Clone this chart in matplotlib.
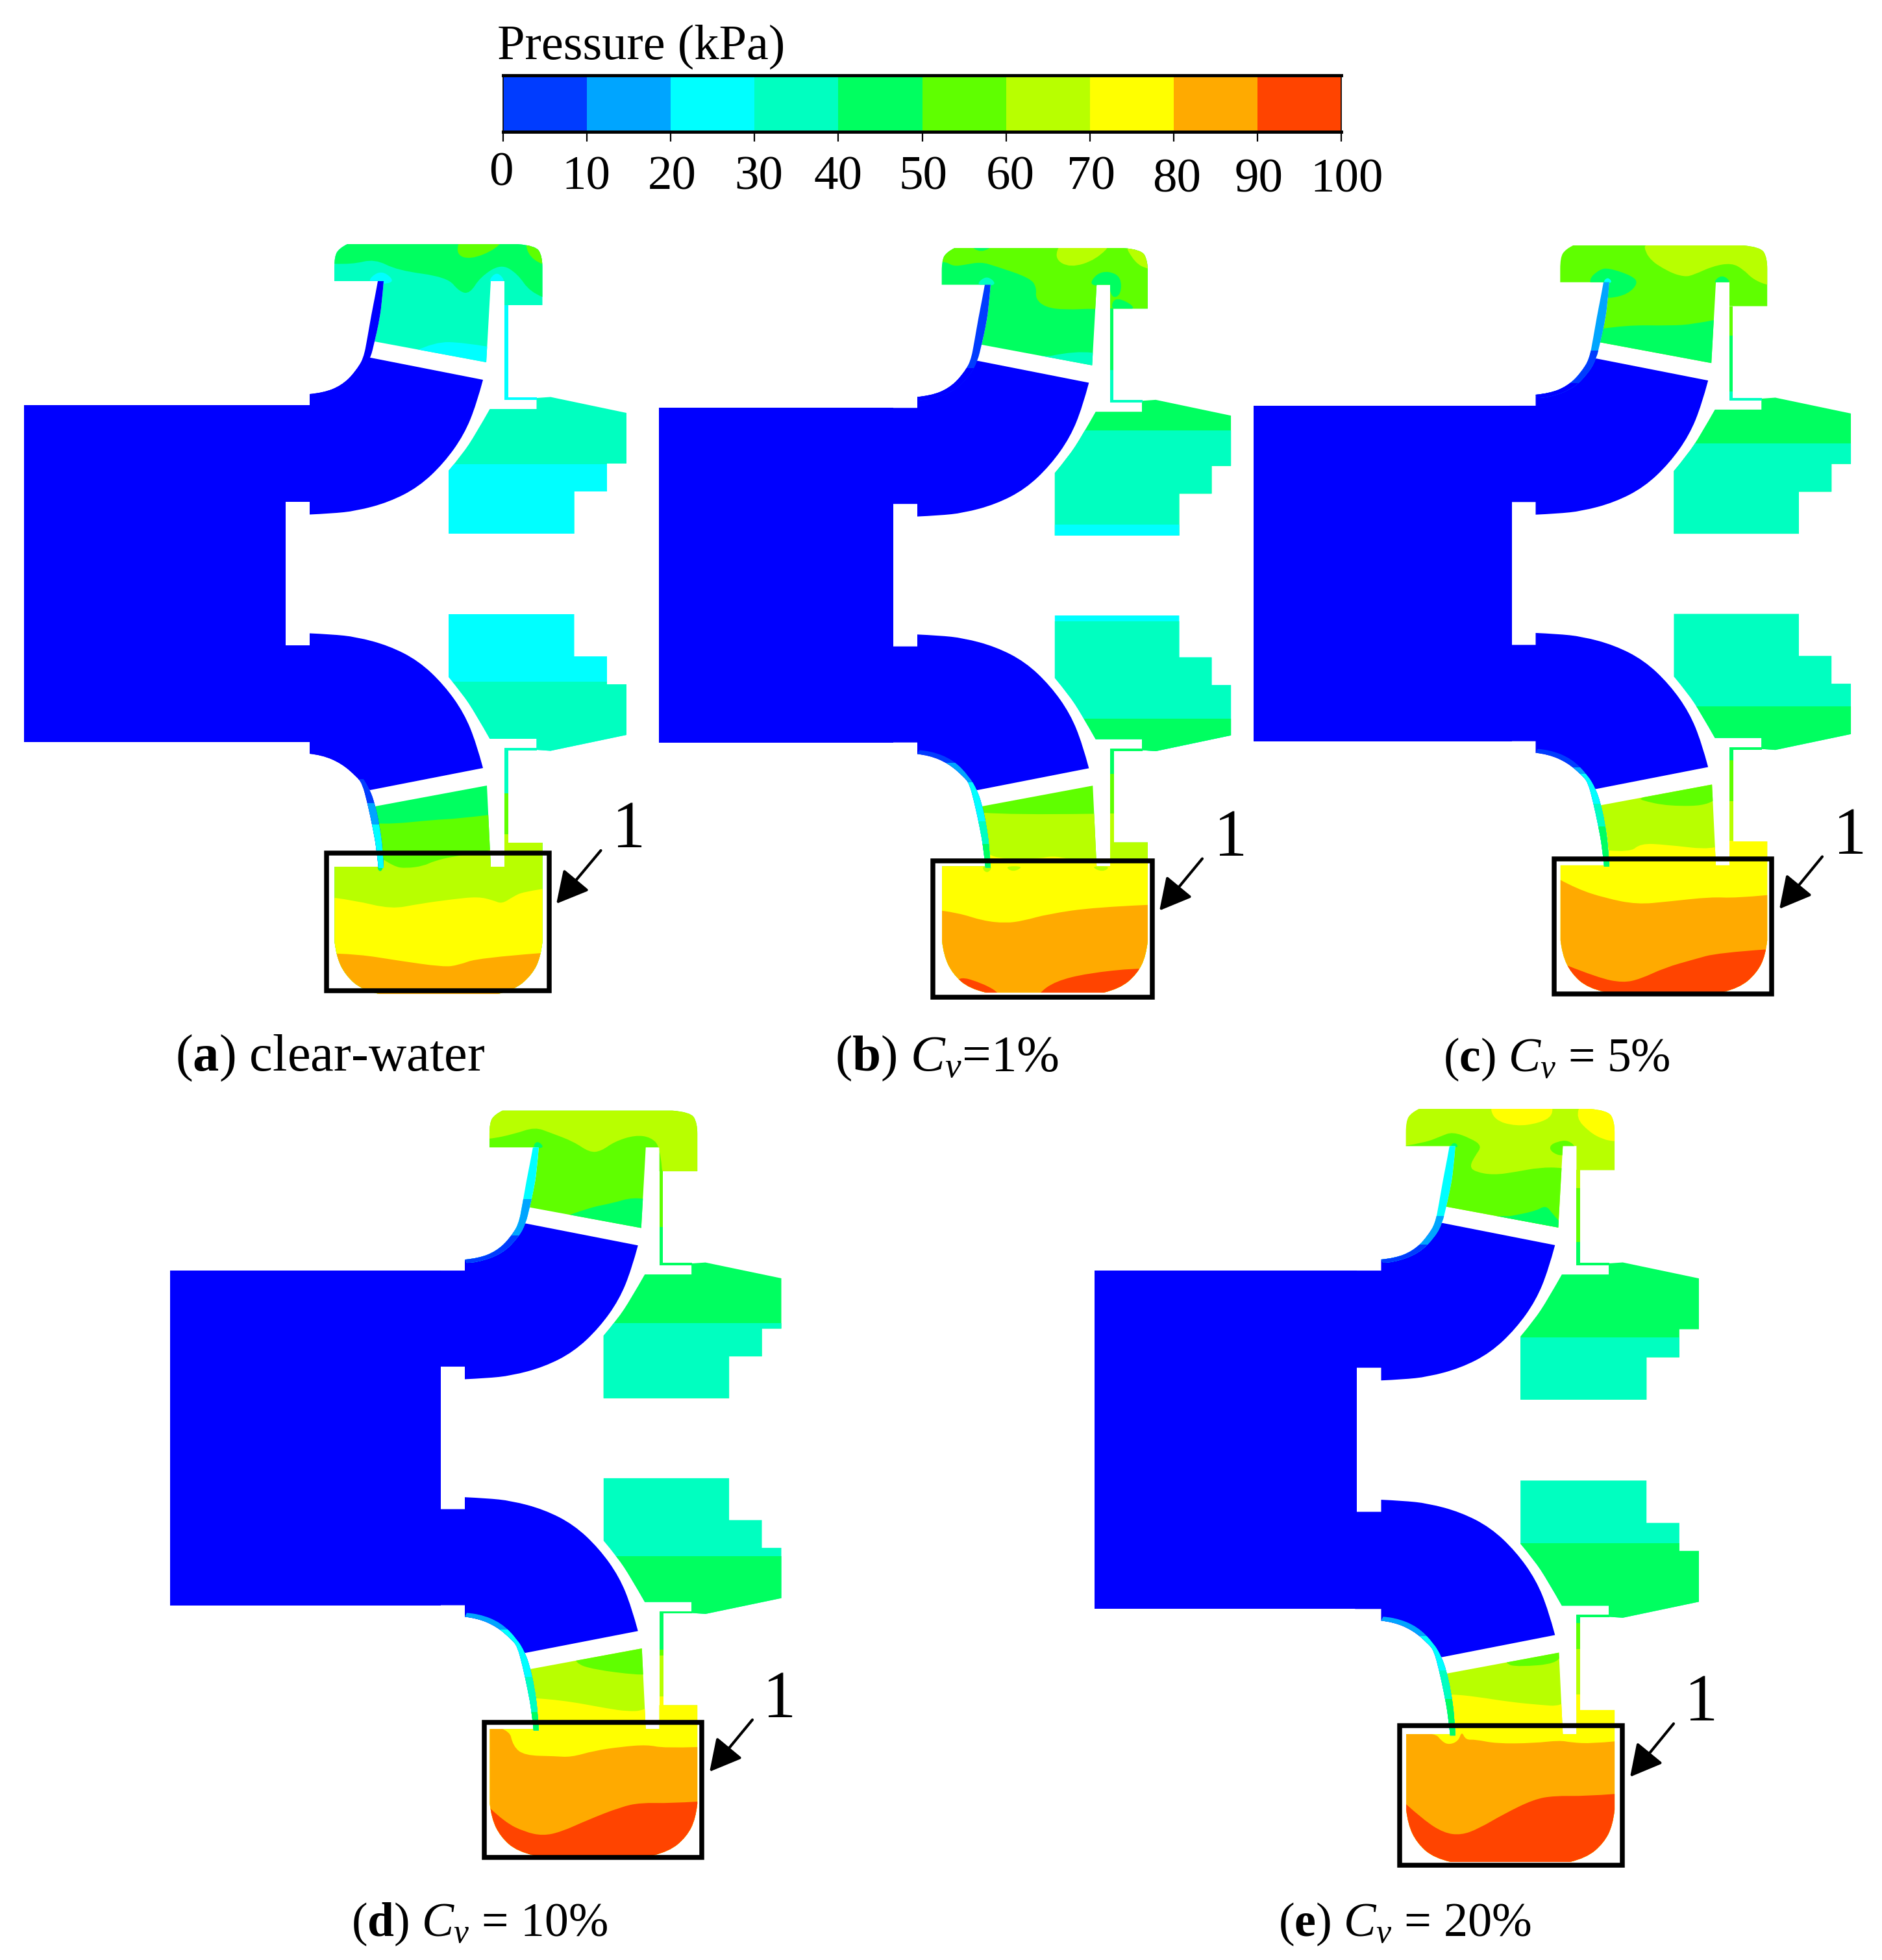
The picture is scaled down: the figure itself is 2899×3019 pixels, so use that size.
"""Pressure contours in the pump meridional section for five solid concentrations."""

import matplotlib

matplotlib.use("Agg")
import matplotlib.pyplot as plt
from matplotlib.patches import FancyArrowPatch, PathPatch, Rectangle
from matplotlib.path import Path

plt.rcParams["font.family"] = ["Liberation Serif", "DejaVu Serif"]
plt.rcParams["mathtext.fontset"] = "custom"
plt.rcParams["mathtext.rm"] = "Liberation Serif"
plt.rcParams["mathtext.it"] = "Liberation Serif:italic"
plt.rcParams["mathtext.bf"] = "Liberation Serif:bold"

WIDTH, HEIGHT = 2899, 3019

# colour bar
PRESSURE_LEVELS = [0, 10, 20, 30, 40, 50, 60, 70, 80, 90, 100]
BAND_COLORS = ["#003cff", "#00a5ff", "#00ffff", "#00ffc0", "#00ff60", "#5fff00",
               "#b8ff00", "#ffff00", "#ffaa00", "#ff4400", "#0000ff"]  # last: inlet blue
DEEP = 10
TICK_LABEL_X = [772, 903, 1035, 1169, 1291, 1422, 1556, 1681, 1813, 1939, 2075]
TICK_LABEL_BASE = [285, 292, 292, 292, 292, 292, 292, 292, 295, 295, 295]

# pump geometry, in its image pixels
ARC_UP = [(744, 585), (734, 622.4), (715, 669.4), (684, 713), (645, 750), (599, 773.5), (549, 787), (510, 791),
          (477, 792.5)]
ARC_LOW = [(477, 975.5), (510, 977), (549, 981), (599, 994.5), (645, 1018), (684, 1055), (715, 1098.6),
           (734, 1145.6), (744, 1183)]
SHROUD_UP = [(477, 607), (498, 605), (525.5, 594), (546.7, 574), (560, 552)]
SHROUD_LOW = [(570, 1217), (558, 1207), (549, 1196), (526, 1176), (496, 1163), (477, 1161)]

CAP_OUTLINE = [[(515, 433), (515, 412)], [(515, 412), (515, 395), (523, 382), (535, 376)],
               [(797, 376), (825, 378), (835.5, 395), (835.5, 412)],
               [(835.5, 470), (777, 470), (777, 433), (756, 433), (749, 558), (577, 526)],
               [(577, 526), (583, 500), (588, 470), (591, 433)]]
LOWER_OUTLINE = [[(578, 1242), (750, 1210), (756, 1335), (777, 1335), (777, 1298),
                  (835.5, 1298), (835.5, 1451)],
                 [(835.5, 1451), (833, 1474), (819, 1502), (792, 1525), (767, 1531)],
                 [(584, 1531), (558, 1525), (532, 1502), (518, 1473), (515.5, 1451)],
                 [(515.5, 1335), (586, 1335), (591, 1335)],
                 [(591, 1335), (590, 1307), (584, 1268), (578, 1242)]]
CHAMBER_UP = [[(754.5, 630), (826.5, 630), (826.5, 613), (848, 611.5), (965, 636), (965, 714),
               (935, 714), (935, 757), (884.5, 757), (884.5, 822), (691, 822), (691, 725)],
              [(691, 725), (712, 700), (733, 668), (754.5, 630)]]
CHAMBER_LOW = [[(754.5, 1138), (826.5, 1138), (826.5, 1155), (848, 1156.5), (965, 1132), (965, 1054),
                (935, 1054), (935, 1011), (884.5, 1011), (884.5, 946), (691, 946), (691, 1043)],
               [(691, 1043), (712, 1068), (733, 1100), (754.5, 1138)]]
STRIP_UP = [[(777, 470), (782.5, 470), (782.5, 612), (827, 612), (827, 616), (777, 616)]]
STRIP_LOW = [[(777, 1152), (827, 1152), (827, 1156), (783, 1156), (783, 1298), (777, 1298)]]
HUB = [[(437, 624), (477, 624), (477, 607)], SHROUD_UP, [(560, 552), (571, 551), (744, 585)], ARC_UP,
       [(477, 773), (437, 773), (437, 994), (477, 994), (477, 975.5)], ARC_LOW, [(744, 1183), (570, 1217)],
       SHROUD_LOW, [(477, 1143), (437, 1143)]]
BLADE_UP = [[(591, 433), (588, 470), (583, 500), (577, 526), (571, 551), (560, 572), (535, 598),
             (495, 612), (480, 612)],
            [(477, 607), (498, 605), (525.5, 594), (546.7, 574), (560, 552), (566, 520), (572, 485),
             (578, 455), (582, 433)]]
BLADE_LOW = [[(591, 1337), (589.5, 1307), (584, 1268), (577, 1237), (570, 1217), (558, 1196), (533, 1170),
              (498, 1156), (480, 1155)],
             [(477, 1161), (496, 1163), (526, 1176), (549, 1196), (558, 1207), (566, 1237), (574, 1274),
              (580, 1307), (583, 1337)]]
INLET_TOP, INLET_BOTTOM, INLET_RIGHT = 624, 1143, 440

# panel placement: hub step x, cap top y, x scale, y scale, inlet left edge
OFFSET_X = [477, 1413, 2365.5, 716, 2127.5]
OFFSET_Y = [376, 382, 378, 1710.7, 1708]
SCALE_X = [1.0, 0.99, 0.995, 0.999, 1.003]
SCALE_Y = [1.0, 0.993, 0.9957, 0.9933, 1.0043]
INLET_LEFT = [37, 1015, 1931, 262, 1686]

# crops the contour lines were read in: x0, y0, x scale, y scale
CROP_A_UP = (0, 340, 1.568, 1.96)
CROP_A_LOW = (400, 1100, 2.613, 2.703)
CROP_B_UP = (1350, 340, 2.613, 3)
CROP_B_LOW = (1350, 1150, 2.613, 2.85)
CROP_C_UP = (2300, 360, 2.75, 3)
CROP_C_LOW = (2050, 1150, 1.845, 2.85)
CROP_D_UP = (680, 1690, 2.85, 3)
CROP_D_LOW = (650, 2550, 1.96, 3)
CROP_E_UP = (2090, 1690, 2.85, 3)
CROP_E_LOW = (2050, 2550, 2.24, 3)

A_UP = [("above", 4, [(808, 130), (850, 132), (905, 115), (960, 150), (1080, 170), (1110, 215), (1135, 220),
                      (1160, 170), (1210, 130), (1250, 160), (1280, 215), (1310, 230)]),
        ("blob", 5, [(1115, 40), (1100, 100), (1135, 118), (1200, 85), (1225, 40)]),
        ("blob", 5, [(1270, 40), (1272, 100), (1310, 135), (1350, 135), (1350, 40)]),
        ("below", 2, [(1000, 395), (1050, 365), (1120, 368), (1178, 380)]),
        ("blob", 2, [(880, 190), (920, 145), (960, 190)]),
        ("blob", 2, [(1175, 190), (1200, 150), (1225, 190)])]
A_LOW = [("below", 5, [(478, 455), (530, 458), (700, 440), (800, 435), (920, 420)]),
         ("below", 6, [(490, 600), (540, 635), (590, 642), (660, 632), (700, 612), (780, 592), (900, 575),
                       (930, 565), (985, 520), (1140, 520)]),
         ("below", 7, [(302, 765), (380, 775), (530, 812), (640, 790), (780, 770), (880, 760), (940, 775),
                       (975, 790), (1020, 760), (1060, 740), (1138, 728)]),
         ("below", 8, [(310, 997), (400, 1000), (550, 1025), (740, 1053), (800, 1045), (880, 1015), (1130, 995)]),
         ("blob", 4, [(470, 635), (485, 660), (500, 635)])]
B_UP = [("blob", 5, [(280, 190), (310, 210), (350, 205), (420, 190), (480, 210), (620, 265), (645, 310),
                     (640, 360), (680, 400), (760, 412), (880, 405), (1000, 415), (1200, 415), (1200, 60),
                     (240, 60), (240, 190)]),
        ("blob", 4, [(855, 300), (885, 245), (935, 232), (985, 260), (985, 340), (950, 360), (935, 300)]),
        ("blob", 4, [(960, 345), (1060, 410), (940, 420)]),
        ("blob", 4, [(370, 110), (420, 150), (480, 110)]),
        ("blob", 3, [(395, 300), (445, 250), (490, 300)]),
        ("blob", 6, [(745, 90), (715, 175), (780, 218), (885, 180), (960, 90)]),
        ("blob", 6, [(990, 90), (1040, 195), (1095, 225), (1150, 225), (1150, 90)]),
        ("below", 3, [(700, 625), (800, 600), (870, 610)])]
B_LOW = [("below", 6, [(425, 290), (540, 300), (870, 295)]),
         ("below", 7, [(460, 475), (480, 492), (650, 492), (710, 480), (770, 492), (885, 510), (945, 505),
                       (1095, 500)]),
         ("blob", 6, [(420, 525), (445, 560), (470, 525)]),
         ("blob", 6, [(515, 525), (550, 552), (595, 525)]),
         ("blob", 6, [(860, 525), (910, 552), (945, 525)]),
         ("below", 8, [(262, 720), (330, 730), (430, 765), (520, 775), (590, 765), (690, 735), (880, 705), (1090, 695)]),
         ("blob", 9, [(325, 1005), (430, 1040), (500, 1085), (505, 1140), (400, 1140), (320, 1080)]),
         ("blob", 9, [(650, 1085), (720, 1030), (850, 995), (1050, 972), (1130, 980), (1130, 1140), (640, 1140)])]
C_UP = [("blob", 6, [(635, 20), (650, 110), (740, 175), (810, 200), (850, 190), (930, 150), (1010, 135),
                     (1060, 165), (1100, 210), (1165, 240), (1250, 250), (1250, 20)]),
        ("blob", 4, [(400, 215), (450, 165), (490, 158), (590, 195), (615, 228), (570, 280), (490, 300), (440, 290)]),
        ("blob", 4, [(925, 232), (970, 185), (1015, 232)]),
        ("below", 4, [(455, 440), (560, 422), (750, 425), (850, 418), (940, 398)]),
        ("blob", 2, [(462, 228), (485, 198), (508, 228)])]
C_LOW = [("blob", 5, [(880, 235), (960, 262), (1085, 258), (1120, 170), (1000, 150), (880, 225)]),
         ("below", 7, [(785, 455), (850, 465), (880, 425), (950, 430), (1090, 455), (1140, 400), (1260, 400)]),
         ("below", 8, [(652, 585), (700, 625), (780, 665), (870, 693), (960, 680), (1080, 660), (1150, 665), (1240, 652)]),
         ("below", 9, [(670, 960), (760, 1015), (830, 1037), (880, 1020), (950, 970), (1030, 935), (1100, 905), (1240, 890)])]
D_UP = [("blob", 6, [(100, 195), (208, 195), (320, 170), (410, 138), (480, 165), (580, 205), (650, 255), (700, 250),
                     (760, 205), (850, 175), (920, 185), (960, 230), (975, 420), (1250, 420), (1250, 0), (100, 0)]),
        ("blob", 4, [(398, 235), (420, 198), (455, 235)]),
        ("below", 4, [(560, 545), (650, 510), (750, 490), (840, 462), (890, 470)])]
D_LOW = [("blob", 5, [(460, 35), (520, 65), (650, 90), (690, 85), (690, -120), (460, -40)]),
         ("below", 7, [(345, 198), (420, 205), (560, 245), (620, 258), (670, 255), (720, 200), (840, 200)]),
         ("below", 8, [(150, 300), (262, 330), (275, 420), (310, 462), (400, 465), (450, 470), (520, 440), (600, 422),
                       (680, 412), (730, 428), (832, 423)]),
         ("below", 9, [(205, 705), (250, 770), (310, 815), (365, 833), (420, 815), (500, 760), (600, 700), (660, 680),
                       (750, 683), (832, 675)])]
E_UP = [("below", 5, [(210, 225), (300, 210), (370, 180), (420, 160), (500, 190), (550, 225), (520, 270), (495, 320),
                      (520, 345), (600, 360), (700, 345), (800, 325), (905, 325), (965, 350), (1300, 350)]),
        ("blob", 5, [(905, 275), (855, 255), (845, 225), (880, 205), (930, 198), (968, 238)]),
        ("blob", 7, [(582, 20), (600, 105), (700, 135), (800, 120), (862, 85), (855, 20)]),
        ("blob", 7, [(985, 20), (962, 95), (1020, 160), (1080, 195), (1135, 205), (1200, 205), (1200, 20)]),
        ("below", 4, [(670, 550), (780, 530), (830, 498), (860, 540), (890, 575)]),
        ("blob", 4, [(405, 232), (428, 205), (450, 232)])]
E_LOW = [("blob", 5, [(600, 40), (650, 52), (780, 38), (800, -20), (780, -120), (600, -40)]),
         ("below", 7, [(300, 178), (415, 178), (500, 190), (620, 215), (720, 228), (795, 235), (850, 175), (980, 175)]),
         ("below", 8, [(150, 340), (355, 350), (385, 400), (410, 412), (440, 395), (452, 350), (465, 390), (500, 388),
                       (570, 407), (700, 405), (790, 392), (830, 402), (900, 407), (978, 397)]),
         ("below", 9, [(258, 685), (320, 760), (390, 820), (450, 830), (510, 800), (600, 730), (700, 665), (770, 648),
                       (880, 650), (978, 640)])]

# (image y where the level starts, colour index); first entry is the base colour
UP_BASE = [3, 4, 5, 5, 6]
LOW_BASE = [4, 5, 6, 6, 6]
CHAMBER_UP_LEVELS = [[(0, 3), (715, 2)], [(0, 4), (663, 3), (808, 2)], [(0, 4), (683, 3)],
                     [(0, 4), (2038, 3)], [(0, 4), (2060, 3)]]
CHAMBER_LOW_LEVELS = [[(0, 2), (1050, 3)], [(0, 2), (957, 3), (1107, 4)], [(0, 3), (1088, 4)],
                      [(0, 3), (2397, 4)], [(0, 3), (2377, 4)]]
STRIP_UP_LEVELS = [[(0, 2)], [(0, 4), (570, 3)], [(0, 5), (517, 4), (603, 3)],
                   [(0, 5), (1890, 4)], [(0, 6), (1830, 5), (1913, 4)]]
STRIP_LOW_LEVELS = [[(0, 3), (1222, 5), (1285, 6)], [(0, 4), (1192, 5), (1253, 6)],
                    [(0, 4), (1171, 5), (1234, 6), (1295, 7)],
                    [(0, 4), (2541, 5), (2550, 6), (2613, 7)], [(0, 4), (2500, 5), (2540, 6), (2610, 7)]]
BLADE_UP_LEVELS = [[(0, DEEP)], [(0, 0), (567, DEEP)], [(0, 1), (540, 0), (590, DEEP)],
                   [(0, 2), (1847, 1), (1903, 0), (1950, DEEP)], [(0, 2), (1873, 1), (1917, 0)]]
BLADE_LOW_LEVELS = [[(0, DEEP), (1200, 0), (1237, 1), (1270, 2)],
                    [(0, 0), (1175, 1), (1205, 2), (1265, 3), (1300, 4)],
                    [(0, 0), (1182, 1), (1192, 2), (1238, 3), (1273, 4)],
                    [(0, 0), (2475, 1), (2510, 2), (2583, 3), (2637, 4)],
                    [(0, 0), (2480, 1), (2520, 2), (2573, 3), (2617, 4)]]

# annotations
BOX_X0 = [499.5, 1433, 2390, 742, 2152]
BOX_X1 = [850, 1779, 2733, 1085, 2503]
BOX_Y0 = [1310, 1322.6, 1319.5, 2649, 2654]
BOX_Y1 = [1530, 1540, 1535, 2865, 2877]
ARROW_TAIL = [(925.5, 1310), (1852, 1322.6), (2807, 1319.5), (1159, 2649), (2578, 2655)]
ARROW_TIP = [(857, 1392), (1786, 1402.6), (2741, 1400), (1093, 2729), (2511, 2737)]
ONE_X = [969, 1896, 2849.5, 1201, 2621]
ONE_BASE = [1305, 1318, 1315, 2645, 2650]
CAPTIONS = [r"($\mathbf{a}$) clear-water", r"($\mathbf{b}$) $C_v$=1%", r"($\mathbf{c}$) $C_v$ = 5%",
            r"($\mathbf{d}$) $C_v$ = 10%", r"($\mathbf{e}$) $C_v$ = 20%"]
CAPTION_X = [270, 1286, 2223, 541, 1969]
CAPTION_BASE = [1649, 1649, 1650, 2982, 2982]
CAPTION_SIZE = [58, 57, 53, 53, 53.5]

# sections that are runs of straight edges, not curves
CORNER_RUNS = [CAP_OUTLINE[0], CAP_OUTLINE[3], LOWER_OUTLINE[0], LOWER_OUTLINE[3], CHAMBER_UP[0], CHAMBER_LOW[0],
               STRIP_UP[0], STRIP_LOW[0], HUB[0], HUB[2], HUB[4], HUB[8]]


def smooth(verts, codes, pts):
    """Append an open quadratic spline through the control points."""
    for i in range(1, len(pts) - 1):
        next_pt = pts[i + 1]
        mid = next_pt if i == len(pts) - 2 else ((pts[i][0] + next_pt[0]) / 2, (pts[i][1] + next_pt[1]) / 2)
        verts += [pts[i], mid]
        codes += [Path.CURVE3, Path.CURVE3]
    if len(pts) == 2:
        verts.append(pts[1])
        codes.append(Path.LINETO)


def outline_path(sections, panel):
    """Build a closed path from the template sections, placed for one panel."""
    ox, oy, sx, sy = OFFSET_X[panel], OFFSET_Y[panel], SCALE_X[panel], SCALE_Y[panel]
    verts, codes = [], []
    for section in sections:
        pts = [(ox + sx * (x - 477), oy + sy * (y - 376)) for x, y in section]
        verts.append(pts[0])
        codes.append(Path.LINETO if verts[:-1] else Path.MOVETO)
        if section in CORNER_RUNS:
            verts += pts[1:]
            codes += [Path.LINETO] * (len(pts) - 1)
        else:
            smooth(verts, codes, pts)
    verts.append(verts[0])
    codes.append(Path.CLOSEPOLY)
    return Path(verts, codes)


def band_path(kind, pts, crop):
    """Contour region in image pixels, from points read in a crop."""
    x0, y0, kx, ky = crop
    pts = [(x0 + x / kx, y0 + y / ky) for x, y in pts]
    if kind == "blob":
        n = len(pts)
        mids = [((pts[i][0] + pts[(i + 1) % n][0]) / 2, (pts[i][1] + pts[(i + 1) % n][1]) / 2) for i in range(n)]
        verts, codes = [mids[-1]], [Path.MOVETO]
        for i in range(n):
            verts += [pts[i], mids[i]]
            codes += [Path.CURVE3, Path.CURVE3]
        verts.append(mids[-1])
        codes.append(Path.CLOSEPOLY)
        return Path(verts, codes)
    far = 900 if kind == "below" else -900
    left, right = pts[0], pts[-1]
    verts = [(left[0] - 400, left[1]), left]
    codes = [Path.MOVETO, Path.LINETO]
    smooth(verts, codes, pts)
    verts += [(right[0] + 400, right[1]), (right[0] + 400, right[1] + far), (left[0] - 400, right[1] + far), verts[0]]
    codes += [Path.LINETO, Path.LINETO, Path.LINETO, Path.CLOSEPOLY]
    return Path(verts, codes)


def draw_region(ax, path, base, bands=(), levels=(), crop=None):
    """Fill a region with its base colour and paint clipped contour bands over it."""
    region = PathPatch(path, facecolor=BAND_COLORS[base], edgecolor="none", zorder=2)
    ax.add_patch(region)
    shapes = [(band_path(kind, pts, crop), idx) for kind, idx, pts in bands]
    for y, idx in levels:
        shapes.append((Path([(-50, y), (WIDTH + 50, y), (WIDTH + 50, y + 3000), (-50, y + 3000), (-50, y)],
                            [Path.MOVETO, Path.LINETO, Path.LINETO, Path.LINETO, Path.CLOSEPOLY]), idx))
    for shape, idx in shapes:
        patch = PathPatch(shape, facecolor=BAND_COLORS[idx], edgecolor="none", zorder=2)
        ax.add_patch(patch)
        patch.set_clip_path(region)


def draw_panel(ax, i, up_bands, up_crop, low_bands, low_crop):
    ox, oy, sx, sy = OFFSET_X[i], OFFSET_Y[i], SCALE_X[i], SCALE_Y[i]
    inlet_y0, inlet_y1 = oy + sy * (INLET_TOP - 376), oy + sy * (INLET_BOTTOM - 376)
    inlet_x1 = ox + sx * (INLET_RIGHT - 477)
    ax.add_patch(Rectangle((INLET_LEFT[i], inlet_y0), inlet_x1 - INLET_LEFT[i], inlet_y1 - inlet_y0,
                           facecolor=BAND_COLORS[DEEP], edgecolor="none", zorder=2))
    draw_region(ax, outline_path(HUB, i), DEEP)

    draw_region(ax, outline_path(CAP_OUTLINE, i), UP_BASE[i], up_bands, crop=up_crop)
    draw_region(ax, outline_path(LOWER_OUTLINE, i), LOW_BASE[i], low_bands, crop=low_crop)
    for outline, levels in [(CHAMBER_UP, CHAMBER_UP_LEVELS), (CHAMBER_LOW, CHAMBER_LOW_LEVELS),
                            (STRIP_UP, STRIP_UP_LEVELS), (STRIP_LOW, STRIP_LOW_LEVELS),
                            (BLADE_UP, BLADE_UP_LEVELS), (BLADE_LOW, BLADE_LOW_LEVELS)]:
        draw_region(ax, outline_path(outline, i), levels[i][0][1], levels=levels[i][1:])

    # the black box, inset so its outer edge sits on the read edge
    lw_px = 7.5
    ax.add_patch(Rectangle((BOX_X0[i] + lw_px / 2, BOX_Y0[i] + lw_px / 2),
                           BOX_X1[i] - BOX_X0[i] - lw_px, BOX_Y1[i] - BOX_Y0[i] - lw_px,
                           facecolor="none", edgecolor="black", lw=lw_px * 0.72, joinstyle="miter", zorder=4))
    ax.add_patch(FancyArrowPatch(ARROW_TAIL[i], ARROW_TIP[i], arrowstyle="-|>,head_length=30,head_width=16",
                                 mutation_scale=1, lw=3, color="black", shrinkA=0, shrinkB=0, zorder=5))
    ax.text(ONE_X[i], ONE_BASE[i], "1", fontsize=74, ha="center", va="baseline", color="black")
    ax.text(CAPTION_X[i], CAPTION_BASE[i], CAPTIONS[i], fontsize=CAPTION_SIZE[i], ha="left", va="baseline", color="black")


fig = plt.figure(figsize=(WIDTH / 100, HEIGHT / 100), dpi=100)
ax = fig.add_axes([0, 0, 1, 1])
ax.set_xlim(0, WIDTH)
ax.set_ylim(HEIGHT, 0)
ax.axis("off")

draw_panel(ax, 0, A_UP, CROP_A_UP, A_LOW, CROP_A_LOW)
draw_panel(ax, 1, B_UP, CROP_B_UP, B_LOW, CROP_B_LOW)
draw_panel(ax, 2, C_UP, CROP_C_UP, C_LOW, CROP_C_LOW)
draw_panel(ax, 3, D_UP, CROP_D_UP, D_LOW, CROP_D_LOW)
draw_panel(ax, 4, E_UP, CROP_E_UP, E_LOW, CROP_E_LOW)

# colour bar on its own pressure axis
cax = fig.add_axes([775 / WIDTH, 1 - 203 / HEIGHT, (2066 - 775) / WIDTH, 87 / HEIGHT])
cax.bar(PRESSURE_LEVELS[:-1], [1] * 10, width=10, align="edge", color=BAND_COLORS[:10])
cax.set_xlim(0, 100)
cax.set_ylim(0, 1)
cax.set_yticks([])
cax.set_xticks(PRESSURE_LEVELS)
cax.set_xticklabels([])
cax.tick_params(axis="x", length=11, width=1.6, color="black")
for side, lw in [("top", 3.5), ("bottom", 3.5), ("left", 1.2), ("right", 1.2)]:
    cax.spines[side].set_linewidth(lw)

for value, x, base in zip(PRESSURE_LEVELS, TICK_LABEL_X, TICK_LABEL_BASE):
    ax.text(x, base, str(value), fontsize=54, ha="center", va="baseline", color="black")
ax.text(766, 91, "Pressure (kPa)", fontsize=55, ha="left", va="baseline", color="black")

fig.savefig("out.png", dpi=100, facecolor="white")
plt.close(fig)
